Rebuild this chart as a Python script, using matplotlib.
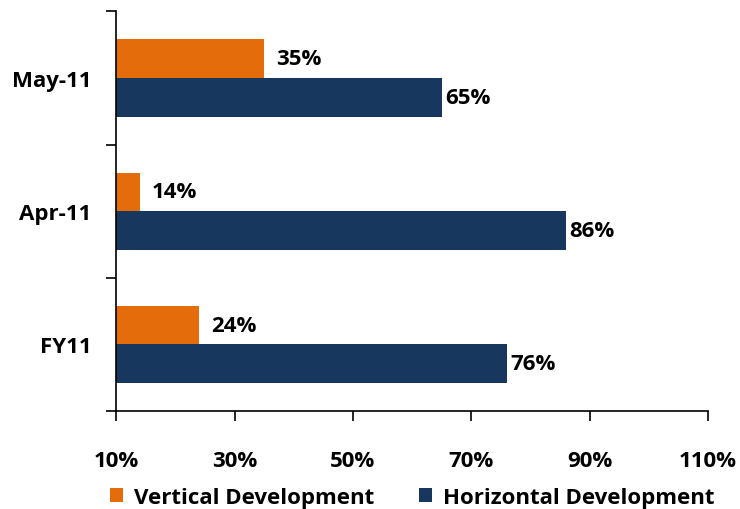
import matplotlib.pyplot as plt
import numpy as np
from matplotlib.ticker import FuncFormatter

plt.rcParams['font.family'] = ['Open Sans', 'DejaVu Sans']
plt.rcParams['font.weight'] = 'bold'

# datos
categorias = ["FY11", "Apr-11", "May-11"]
vertical = [24, 14, 35]
horizontal = [76, 86, 65]

color_v = '#E46C0A'
color_h = '#17375E'

fig = plt.figure(figsize=(7.4, 5.1), dpi=100)
ax = fig.add_axes([0.157, 0.192, 0.8, 0.784])

y = np.arange(len(categorias))
h = 0.29
ax.barh(y + h / 2, vertical, height=h, color=color_v, label="Vertical Development")
ax.barh(y - h / 2, horizontal, height=h, color=color_h, label="Horizontal Development")

for yi, v in zip(y, vertical):
    ax.text(v + 2, yi + h / 2, f"{v}%", va='center', ha='left', fontsize=16, fontweight='bold')
for yi, v in zip(y, horizontal):
    ax.text(v + 0.6, yi - h / 2, f"{v}%", va='center', ha='left', fontsize=16, fontweight='bold')

ax.set_xlim(10, 110)
ax.set_ylim(-0.5, 2.5)
ax.set_xticks(range(10, 111, 20))
ax.xaxis.set_major_formatter(FuncFormatter(lambda x, p: f"{int(x)}%"))
ax.set_yticks(y)
ax.set_yticklabels(categorias)
ax.set_yticks([-0.5, 0.5, 1.5, 2.5], minor=True)
ax.tick_params(axis='y', which='major', length=0, pad=18, labelsize=16)
ax.tick_params(axis='y', which='minor', length=7, width=1.2)
ax.tick_params(axis='x', length=7, width=1.2, labelsize=16, pad=21)
for s in ['top', 'right']:
    ax.spines[s].set_visible(False)
for s in ['left', 'bottom']:
    ax.spines[s].set_linewidth(1.2)

ax.legend(loc='upper center', bbox_to_anchor=(0.5, -0.14), ncol=2, frameon=False,
          fontsize=16, handlelength=0.6, handleheight=0.6, handletextpad=0.5, columnspacing=2.0)

plt.savefig("out.png", dpi=100)
